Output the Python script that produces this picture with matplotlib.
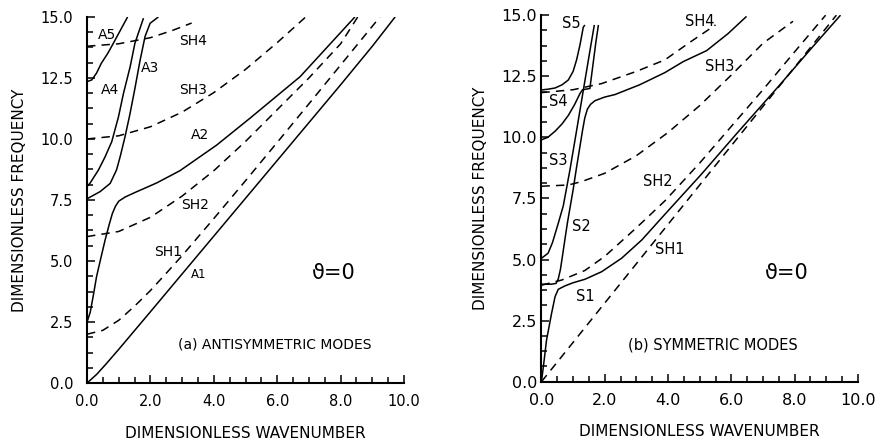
import numpy as np
import matplotlib
matplotlib.use("Agg")
import matplotlib.pyplot as plt
from matplotlib.ticker import MultipleLocator, FormatStrFormatter

plt.rcParams['font.family'] = ['DejaVu Sans']

# ---- (a) antisymmetric modes: (wavenumber, frequency)
a1_k = [0, 0.3, 0.6, 1.0, 1.5, 2.0, 3.0, 4.0, 5.0, 6.0, 7.0, 8.0, 9.0, 9.72]
a1_f = [0, 0.35, 0.78, 1.38, 2.15, 2.92, 4.47, 6.02, 7.57, 9.12, 10.67, 12.22, 13.8, 15.0]
a2_k = [0, 0.1, 0.2, 0.3, 0.45, 0.57, 0.7, 0.8, 0.9, 1.0, 1.2, 1.5, 2.2, 2.93, 4.09, 5.14, 6.72, 8.45]
a2_f = [2.5, 2.9, 3.6, 4.36, 5.2, 5.86, 6.5, 6.95, 7.25, 7.45, 7.62, 7.8, 8.2, 8.7, 9.75, 10.85, 12.55, 15.0]
a3_k = [0, 0.41, 0.73, 0.93, 1.05, 1.2, 1.35, 1.5, 1.67, 1.83, 1.99, 2.25]
a3_f = [7.55, 7.84, 8.18, 8.73, 9.3, 10.1, 11.0, 12.0, 13.2, 14.2, 14.74, 15.0]
a4_k = [0, 0.1, 0.36, 0.57, 0.78, 0.99, 1.15, 1.36, 1.51, 1.78]
a4_f = [8.05, 8.2, 8.73, 9.27, 9.89, 10.9, 11.87, 12.96, 13.92, 14.95]
a5_k = [0, 0.15, 0.3, 0.45, 0.65, 0.83, 1.05, 1.28]
a5_f = [12.35, 12.42, 12.7, 13.1, 13.5, 13.92, 14.45, 15.0]

sha1_k = [0, 0.5, 1.0, 1.5, 2.0, 2.5, 3.0, 4.0, 5.0, 6.0, 7.0, 8.0, 9.24]
sha1_f = [2.0, 2.16, 2.57, 3.15, 3.79, 4.5, 5.22, 6.74, 8.29, 9.86, 11.44, 13.03, 15.0]
sha2_k = [0, 1.0, 2.0, 3.0, 4.0, 5.0, 6.0, 7.0, 8.0, 8.54]
sha2_f = [6.0, 6.21, 6.79, 7.66, 8.7, 9.9, 11.2, 12.5, 13.9, 15.0]
sha3_k = [0, 1.0, 2.0, 3.0, 4.0, 5.0, 6.0, 6.9]
sha3_f = [10.0, 10.13, 10.5, 11.1, 11.9, 12.85, 13.95, 15.0]
sha4_k = [0, 1.0, 2.0, 2.7, 3.3]
sha4_f = [13.8, 13.9, 14.15, 14.45, 14.75]

# ---- (b) symmetric modes
s1_k = [0, 0.06, 0.16, 0.32, 0.43, 0.53, 0.74, 1.0, 1.37, 1.9, 2.53, 3.17, 3.9, 5.06, 6.2, 7.5, 8.5, 9.45]
s1_f = [0, 0.61, 1.7, 2.8, 3.48, 3.78, 3.92, 4.05, 4.19, 4.5, 5.05, 5.8, 6.85, 8.5, 10.2, 12.1, 13.6, 15.0]
s2_k = [0, 0.3, 0.46, 0.53, 0.6, 0.67, 0.75, 0.82, 0.9, 1.0, 1.1, 1.2, 1.3, 1.37, 1.45, 1.55, 1.69,
        2.0, 2.32, 3.1, 3.9, 4.48, 5.22, 5.9, 6.48]
s2_f = [3.99, 3.99, 4.02, 4.2, 4.6, 5.2, 5.9, 6.5, 7.1, 7.85, 8.7, 9.5, 10.3, 10.8, 11.15, 11.35, 11.5,
        11.65, 11.75, 12.15, 12.65, 13.1, 13.55, 14.25, 14.95]
s3_k = [0, 0.21, 0.35, 0.53, 0.69, 0.9, 1.1, 1.3, 1.5, 1.67]
s3_f = [5.05, 5.26, 5.7, 6.48, 7.2, 8.67, 10.2, 11.75, 13.3, 14.6]
s4_k = [0, 0.2, 0.43, 0.65, 0.85, 1.05, 1.22, 1.3, 1.53, 1.63, 1.72, 1.8]
s4_f = [9.9, 10.0, 10.25, 10.55, 10.9, 11.35, 11.8, 11.95, 12.0, 13.0, 13.9, 14.6]
s5_k = [0, 0.2, 0.43, 0.65, 0.85, 1.0, 1.11, 1.22, 1.32, 1.37]
s5_f = [11.94, 11.97, 12.02, 12.15, 12.35, 12.7, 13.17, 13.8, 14.5, 14.6]

shs1_k = [0, 2.0, 4.0, 6.0, 8.0, 9.32]
shs1_f = [0, 3.22, 6.44, 9.66, 12.87, 15.0]
shs2_k = [0, 0.64, 1.37, 2.0, 3.0, 3.9, 5.0, 6.0, 7.0, 8.0, 8.98]
shs2_f = [3.95, 4.16, 4.55, 5.13, 6.3, 7.4, 8.95, 10.45, 11.95, 13.5, 15.0]
shs3_k = [0, 0.85, 1.27, 2.0, 3.0, 4.0, 5.0, 6.0, 7.0, 7.95]
shs3_f = [8.0, 8.05, 8.19, 8.53, 9.25, 10.2, 11.3, 12.55, 13.85, 14.75]
shs4_k = [0, 1.0, 1.9, 3.0, 3.9, 4.7, 5.5]
shs4_f = [11.83, 11.95, 12.2, 12.7, 13.17, 13.9, 14.6]

left_labels = [("A5", 0.62, 14.26), ("A4", 0.73, 12.0), ("A3", 1.99, 12.9), ("SH4", 3.35, 14.0),
               ("SH3", 3.35, 12.0), ("A2", 3.56, 10.16), ("SH2", 3.41, 7.3), ("SH1", 2.56, 5.38)]
right_labels = [("S5", 0.95, 14.67), ("S4", 0.53, 11.46), ("S3", 0.53, 9.07), ("S2", 1.27, 6.35),
                ("S1", 1.37, 3.48), ("SH4", 5.0, 14.74), ("SH3", 5.64, 12.9), ("SH2", 3.69, 8.19),
                ("SH1", 4.06, 5.39)]

fig = plt.figure(figsize=(8.81, 4.40), dpi=100)
axa = fig.add_axes([0.0988, 0.1295, 0.3598, 0.832])
axb = fig.add_axes([0.6146, 0.1325, 0.3592, 0.833])

LW = 1.1
DASH = (5.5, 4.0)


def style(ax, fs, pad):
    ax.set_xlim(0, 10)
    ax.set_ylim(0, 15)
    for s in ["top", "right"]:
        ax.spines[s].set_visible(False)
    for s in ["left", "bottom"]:
        ax.spines[s].set_linewidth(1.5)
    ax.xaxis.set_major_locator(MultipleLocator(2.0))
    ax.xaxis.set_minor_locator(MultipleLocator(0.5))
    ax.yaxis.set_major_locator(MultipleLocator(2.5))
    ax.yaxis.set_minor_locator(MultipleLocator(0.625))
    ax.xaxis.set_major_formatter(FormatStrFormatter("%.1f"))
    ax.yaxis.set_major_formatter(FormatStrFormatter("%.1f"))
    ax.tick_params(which="both", direction="in", width=1.1, labelsize=fs)
    ax.tick_params(which="major", length=6)
    ax.tick_params(which="minor", length=4)
    ax.tick_params(axis="x", pad=8)
    ax.tick_params(axis="y", pad=pad)
    ax.set_xlabel("DIMENSIONLESS WAVENUMBER", fontsize=11, labelpad=12)
    ax.set_ylabel("DIMENSIONLESS FREQUENCY", fontsize=11, labelpad=10)


# left panel
for k, f in [(a1_k, a1_f), (a2_k, a2_f), (a3_k, a3_f), (a4_k, a4_f), (a5_k, a5_f)]:
    axa.plot(k, f, color="black", lw=LW, solid_capstyle="butt")
for k, f in [(sha1_k, sha1_f), (sha2_k, sha2_f), (sha3_k, sha3_f), (sha4_k, sha4_f)]:
    axa.plot(k, f, color="black", lw=LW, dashes=DASH)
for t, x, y in left_labels:
    axa.text(x, y, t, fontsize=10, ha="center", va="center")
axa.text(3.51, 4.43, "A1", fontsize=8.5, ha="center", va="center")
axa.text(7.77, 4.5, "ϑ=0", fontsize=15, ha="center", va="center")
axa.text(5.93, 1.56, "(a) ANTISYMMETRIC MODES", fontsize=10, ha="center", va="center")
style(axa, 10.5, 10)

# right panel
for k, f in [(s1_k, s1_f), (s2_k, s2_f), (s3_k, s3_f), (s4_k, s4_f), (s5_k, s5_f)]:
    axb.plot(k, f, color="black", lw=LW, solid_capstyle="butt")
for k, f in [(shs1_k, shs1_f), (shs2_k, shs2_f), (shs3_k, shs3_f), (shs4_k, shs4_f)]:
    axb.plot(k, f, color="black", lw=LW, dashes=DASH)
for t, x, y in right_labels:
    axb.text(x, y, t, fontsize=10.5, ha="center", va="center")
axb.text(7.75, 4.44, "ϑ=0", fontsize=15, ha="center", va="center")
axb.text(5.43, 1.5, "(b) SYMMETRIC MODES", fontsize=10.5, ha="center", va="center")
style(axb, 11.5, 3)

fig.savefig("out.png", dpi=100)
